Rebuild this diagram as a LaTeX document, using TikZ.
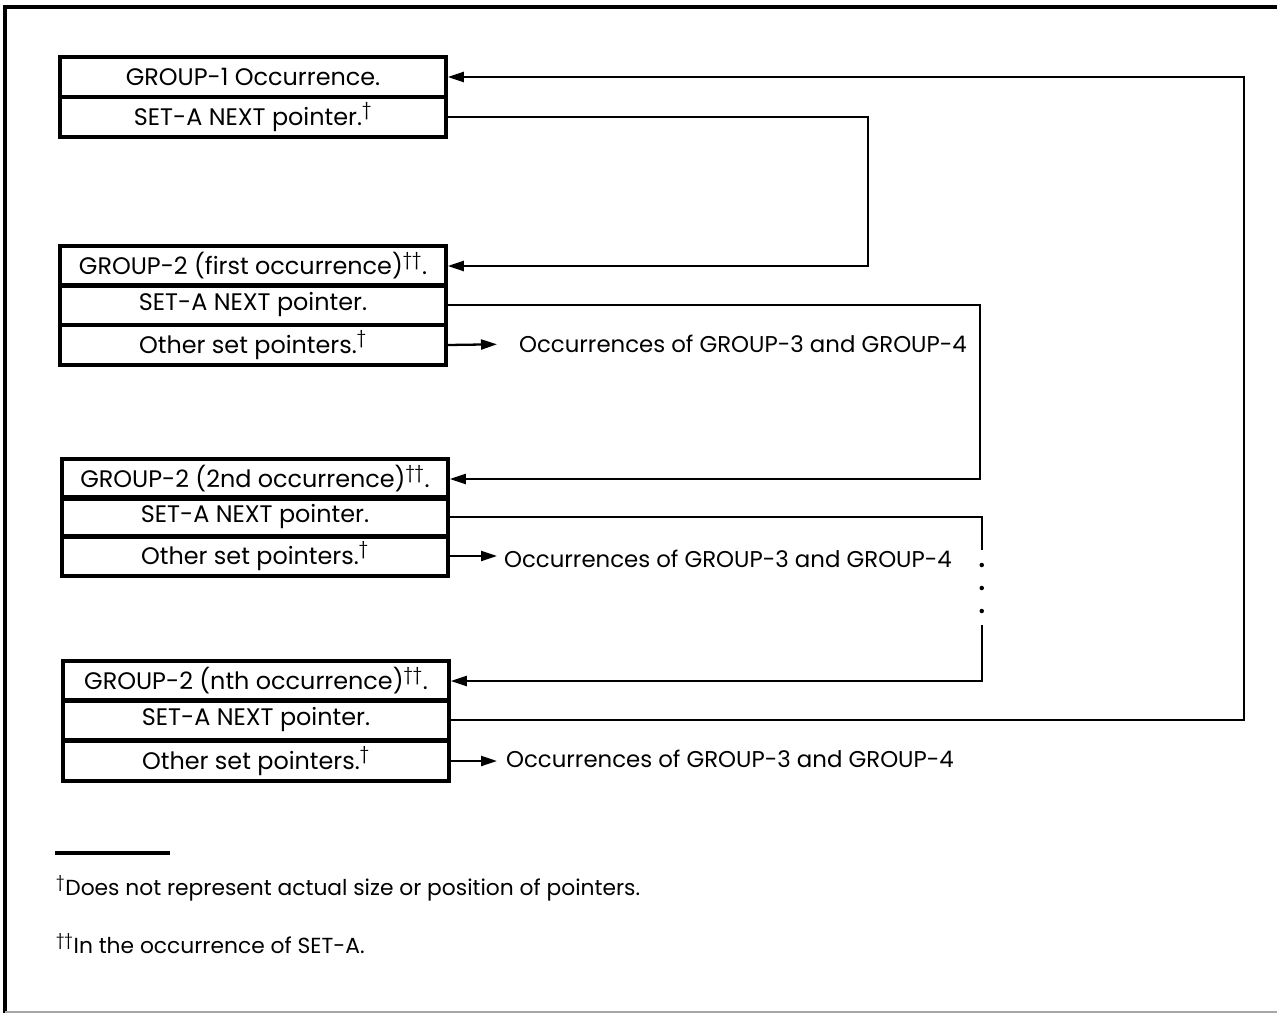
\documentclass[tikz,border=0pt]{standalone}
\usepackage{fontspec}
\setmainfont{Poppins}
\usetikzlibrary{calc}
\usetikzlibrary{arrows.meta}
\usetikzlibrary{positioning}
\tikzset{
	every path/.style={line width=1.3pt},
	align=center,
	row/.style={
		draw,
		rectangle,
		line width=2pt,
		minimum width=77.2mm,
		minimum height=8mm,
		inner sep=0pt,
		font=\fontsize{13.6}{16}\selectfont,
	},
	ptr/.style={
		-{Triangle[length=3.2mm,width=2mm]}
	},
	target/.style={
		anchor=west,
		inner sep=0pt,
		font=\fontsize{13}{16}\selectfont,
	},
	note/.style={
		anchor=base west,
		inner sep=0pt,
		font=\fontsize{12.4}{15}\selectfont,
	},
}
\newcommand{\dg}{\textsuperscript{\textdagger}}
\newcommand{\ddg}{\textsuperscript{\textdagger\textdagger}}

\begin{document}
\begin{tikzpicture}[x=0.2mm,y=-0.2mm]
	\useasboundingbox (0,0) rectangle (1277,1013);
	\draw[line width=1.8pt] (1290,7) -- (5,7) -- (5,1013);
	\draw[line width=0.6pt, black!35] (5,1012) -- (1290,1012);

	% GROUP-1
	\node[row] (grp1)  at (253,77)  {GROUP-1 Occurrence.};
	\node[row] (next1) at (253,117) {SET-A NEXT pointer.\dg};

	% GROUP-2, first
	\node[row] (grp2)   at (253,266) {GROUP-2 (first occurrence)\ddg.};
	\node[row] (next2)  at (253,305) {SET-A NEXT pointer.};
	\node[row] (other2) at (253,345) {Other set pointers.\dg};

	% GROUP-2, 2nd
	\node[row] (grp3)   at (255,479) {GROUP-2 (2nd occurrence)\ddg.};
	\node[row] (next3)  at (255,517) {SET-A NEXT pointer.};
	\node[row] (other3) at (255,556) {Other set pointers.\dg};

	% GROUP-2, nth
	\node[row] (grp4)   at (256,681) {GROUP-2 (nth occurrence)\ddg.};
	\node[row] (next4)  at (256,720) {SET-A NEXT pointer.};
	\node[row] (other4) at (256,761) {Other set pointers.\dg};

	\node[target] (occ2) at (518,344) {Occurrences of GROUP-3 and GROUP-4};
	\node[target] (occ3) at (503,559) {Occurrences of GROUP-3 and GROUP-4};
	\node[target] (occ4) at (505,759) {Occurrences of GROUP-3 and GROUP-4};

	\draw[ptr] (next1.east) -- ++(420,0) |- (grp2.east);
	\draw[ptr] (next2.east) -- ++(532,0) |- (grp3.east);
	\draw (next3.east) -| ++(532,33) coordinate (gap3);
	\foreach \d in {15,38,61}
		\fill ($(gap3)+(0,\d)$) circle (0.45mm);
	\draw[ptr] ($(gap3)+(0,75)$) |- (grp4.east);
	\draw[ptr] (next4.east) -- ++(793,0) |- (grp1.east);

	\draw[ptr, shorten >=21*0.2mm] (other2.east) -- (occ2.west);
	\draw[ptr, shorten >=6*0.2mm] (other3.east) -- (other3.east -| occ3.west);
	\draw[ptr, shorten >=8*0.2mm] (other4.east) -- (other4.east -| occ4.west);

	% footnotes
	\draw[line width=1.8pt] (55,853) coordinate (rule) -- ++(115,0);
	\node[note] (fn1) at (55,895) {\dg Does not represent actual size or position of pointers.};
	\node[note] (fn2) at (55,953) {\ddg In the occurrence of SET-A.};
\end{tikzpicture}
\end{document}
